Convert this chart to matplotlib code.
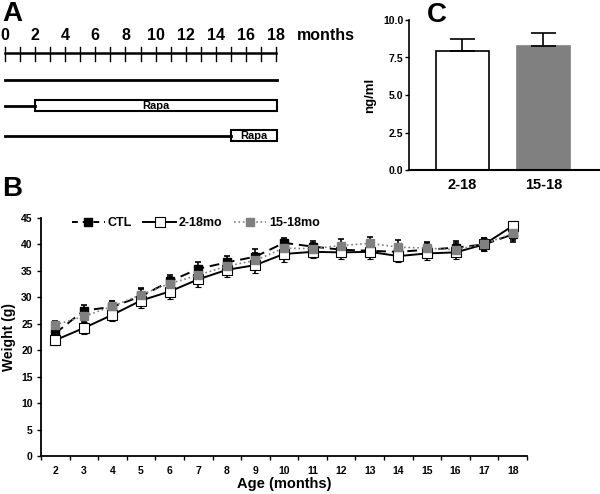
import matplotlib
matplotlib.use('Agg')
import matplotlib.pyplot as plt
import matplotlib.patches as patches
from matplotlib.lines import Line2D

plt.rcParams['font.family'] = ['Liberation Sans', 'DejaVu Sans']
plt.rcParams['font.weight'] = 'bold'

W, H = 600, 494

# panel B data (weight, g)
months = [2, 3, 4, 5, 6, 7, 8, 9, 10, 11, 12, 13, 14, 15, 16, 17, 18]
ctl = [23.2, 27.5, 28.2, 30.2, 33.0, 35.4, 36.6, 37.7, 40.3, 39.6, 39.0, 38.8, 38.6, 39.0, 39.4, 40.0, 41.9]
ctl_err = [1.0, 1.1, 1.2, 1.3, 1.2, 1.2, 1.3, 1.4, 1.0, 1.1, 1.2, 1.2, 1.1, 1.2, 1.3, 1.3, 1.4]
rapa_2_18 = [21.9, 24.2, 26.7, 29.4, 31.1, 33.4, 35.2, 36.1, 38.2, 38.6, 38.5, 38.6, 37.8, 38.3, 38.5, 40.0, 43.5]
rapa_2_18_err = [0.9, 1.1, 1.2, 1.4, 1.5, 1.5, 1.4, 1.5, 1.6, 1.2, 1.2, 1.3, 1.2, 1.3, 1.3, 1.2, 1.0]
rapa_15_18 = [24.8, 26.4, 28.3, 30.5, 32.6, 34.2, 35.9, 37.0, 39.3, 39.2, 39.8, 40.2, 39.5, 39.3, 39.0, 40.1, 42.1]
rapa_15_18_err = [0.8, 1.0, 1.1, 1.2, 1.3, 1.3, 1.3, 1.4, 1.3, 1.0, 1.2, 1.3, 1.3, 1.2, 1.2, 1.2, 1.2]

# panel C data (ng/ml)
groups = ['2-18', '15-18']
levels = [7.9, 8.25]
levels_err = [0.85, 0.85]

# panel A schedule (months)
timeline_labels = [0, 2, 4, 6, 8, 10, 12, 14, 16, 18]
rapa_start = [2, 15]
rapa_end = 18


def px_axes(fig, x0, y0, x1, y1):
    # pixel box (top-left origin) -> figure axes
    return fig.add_axes([x0 / W, 1 - y1 / H, (x1 - x0) / W, (y1 - y0) / H])


fig = plt.figure(figsize=(6, 4.94), dpi=100)

# ---------- panel A ----------
axA = px_axes(fig, 5, 0, 276, 150)
axA.set_xlim(0, 18)
axA.set_ylim(150, 0)
axA.axis('off')
axA.plot([0, 18], [53, 53], color='black', lw=1.8, clip_on=False)
for m in range(0, 19):
    axA.plot([m, m], [47, 61], color='black', lw=1, clip_on=False)
for m in timeline_labels:
    axA.text(m, 36, str(m), ha='center', va='center', fontsize=11.5, fontweight='bold')
axA.text(19.4, 36, 'months', ha='left', va='center', fontsize=11.5, fontweight='bold', clip_on=False)

axA.plot([0, 18.05], [80, 80], color='black', lw=2, clip_on=False)
for yc, s in zip([106, 136], rapa_start):
    axA.plot([0, s], [yc, yc], color='black', lw=2, clip_on=False)
    axA.add_patch(patches.Rectangle((s, yc - 5.5), rapa_end - s + 0.05, 11, facecolor='white',
                                    edgecolor='black', lw=1.5, clip_on=False))
    axA.text((s + rapa_end) / 2 + 0.05, yc, 'Rapa', ha='center', va='center', fontsize=8, fontweight='bold')

fig.text(2 / W, 1 - 14 / H, 'A', fontsize=20, fontweight='bold', va='center', ha='left')
fig.text(2 / W, 1 - 189 / H, 'B', fontsize=20, fontweight='bold', va='center', ha='left')
fig.text(427 / W, 1 - 15 / H, 'C', fontsize=20, fontweight='bold', va='center', ha='left')

# ---------- panel C ----------
axC = px_axes(fig, 409, 20, 600, 170)
xs = range(len(groups))
axC.bar(xs, levels, width=0.65, color=['white', '#808080'], edgecolor=['black', '#808080'], lw=1.2,
        yerr=[[0, 0], levels_err], error_kw=dict(ecolor='black', capsize=9, elinewidth=1.2, capthick=1.2))
axC.set_xlim(-0.66, 1.70)
axC.set_ylim(0, 10)
axC.set_yticks([0, 2.5, 5.0, 7.5, 10.0])
axC.set_yticklabels(['0.0', '2.5', '5.0', '7.5', '10.0'], fontsize=7.5, fontweight='bold')
axC.set_xticks(list(xs))
axC.set_xticklabels(groups, fontsize=10.5, fontweight='bold')
axC.tick_params(axis='x', length=0, pad=6)
axC.tick_params(axis='y', length=3, width=1, pad=1)
axC.spines['top'].set_visible(False)
axC.spines['right'].set_visible(False)
axC.spines['left'].set_linewidth(1.2)
axC.spines['bottom'].set_linewidth(1.5)
axC.set_ylabel('ng/ml', fontsize=9.5, fontweight='bold', labelpad=5)

# ---------- panel B ----------
axB = px_axes(fig, 41, 218, 527, 456)
eb = dict(ecolor='black', elinewidth=1.2, capsize=2, capthick=1.2)
axB.errorbar(months, ctl, yerr=ctl_err, color='black', ls=(0, (5, 3)), lw=1.4, marker='s', ms=6,
             mfc='black', mec='black', **eb)
axB.errorbar(months, rapa_2_18, yerr=rapa_2_18_err, color='black', ls='-', lw=1.4, marker='s', ms=7,
             mfc='white', mec='black', mew=0.8, **eb)
axB.errorbar(months, rapa_15_18, yerr=rapa_15_18_err, color='#808080', ls=':', lw=1.2, marker='s', ms=6,
             mfc='#808080', mec='#808080', **eb)
axB.set_xlim(1.5, 18.5)
axB.set_ylim(0, 45)
axB.set_yticks(range(0, 46, 5))
axB.set_xticks(months)
axB.set_xticks([m + 0.5 for m in [1] + months], minor=True)
axB.tick_params(axis='x', which='major', length=0, pad=7, labelsize=7.5)
axB.tick_params(axis='x', which='minor', length=3, width=1)
axB.tick_params(axis='y', length=3, width=1, pad=3, labelsize=7.5)
for lab in axB.get_xticklabels() + axB.get_yticklabels():
    lab.set_fontweight('bold')
axB.spines['top'].set_visible(False)
axB.spines['right'].set_visible(False)
axB.spines['left'].set_linewidth(1.3)
axB.spines['bottom'].set_linewidth(1.3)
axB.set_xlabel('Age (months)', fontsize=10.5, fontweight='bold', labelpad=1)
axB.set_ylabel('Weight (g)', fontsize=10, fontweight='bold', labelpad=4)
handles = [
    Line2D([], [], color='black', ls=(0, (3, 2.5)), lw=1.4, marker='s', ms=6, mfc='black', mec='black'),
    Line2D([], [], color='black', ls='-', lw=1.4, marker='s', ms=7, mfc='white', mec='black', mew=0.8),
    Line2D([], [], color='#808080', ls=':', lw=1.2, marker='s', ms=6, mfc='#808080', mec='#808080'),
]
axB.legend(handles, ['CTL', '2-18mo', '15-18mo'], loc='upper left', bbox_to_anchor=(0.0535, 1.025),
           borderaxespad=0, ncol=3, frameon=False, fontsize=9, handlelength=2.6,
           columnspacing=0.96, handletextpad=0.2)

fig.savefig('out.png', dpi=100)
